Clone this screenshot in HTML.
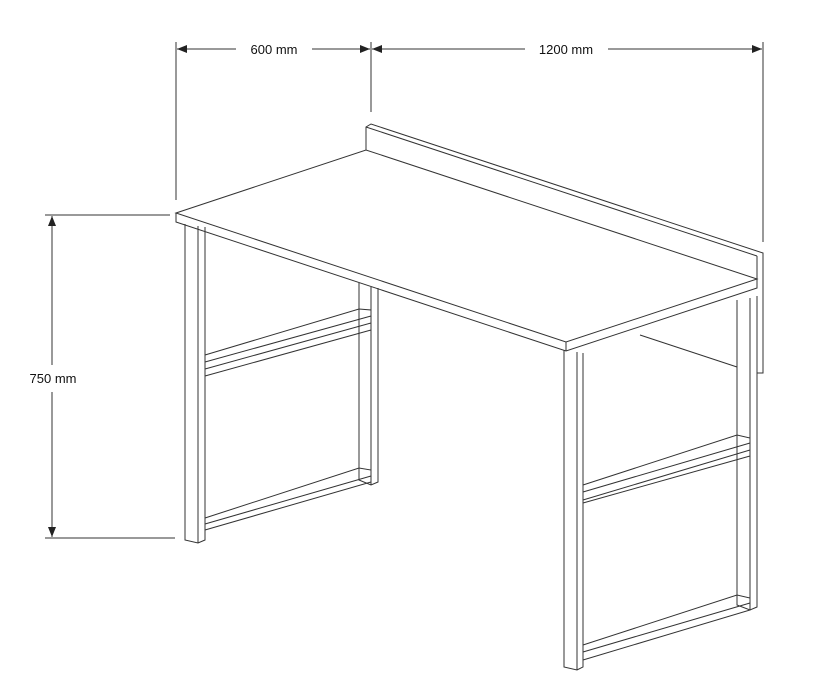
<!DOCTYPE html>
<html><head><style>body{margin:0;background:#fff}svg{display:block}</style></head><body>
<svg width="820" height="691" viewBox="0 0 820 691" xmlns="http://www.w3.org/2000/svg">
<defs><marker id="a" markerWidth="10" markerHeight="8" refX="10" refY="4" orient="auto-start-reverse" markerUnits="userSpaceOnUse"><path d="M0,0 L10,4 L0,8 Z" fill="#222"/></marker></defs>
<g stroke="#333" stroke-width="1" fill="none">
<!-- dimension lines -->
<line x1="176" y1="42" x2="176" y2="200"/>
<line x1="371" y1="42" x2="371" y2="112"/>
<line x1="763" y1="42" x2="763" y2="242"/>
<line x1="177" y1="49" x2="236" y2="49" marker-start="url(#a)"/>
<line x1="312" y1="49" x2="370" y2="49" marker-end="url(#a)"/>
<line x1="372" y1="49" x2="525" y2="49" marker-start="url(#a)"/>
<line x1="608" y1="49" x2="762" y2="49" marker-end="url(#a)"/>
<line x1="45" y1="215" x2="170" y2="215"/>
<line x1="45" y1="538" x2="175" y2="538"/>
<line x1="52" y1="216" x2="52" y2="365" marker-start="url(#a)"/>
<line x1="52" y1="392" x2="52" y2="537" marker-end="url(#a)"/>
<!-- backsplash -->
<polyline points="366,150 366,127 371,124 763,253 763,373 757,373"/>
<line x1="366" y1="127" x2="757" y2="256"/>
<line x1="757" y1="256" x2="757" y2="279"/>
<!-- top -->
<polygon points="176,213 366,150 757,279 566,342" fill="#fff"/>
<polyline points="176,213 176,222 566,351 757,288 757,279"/>
<line x1="566" y1="342" x2="566" y2="351"/>
<line x1="640" y1="335" x2="737" y2="367"/>
<!-- left front post -->
<polyline points="185,224 185,540 198,543 205,540 205,227"/>
<line x1="198" y1="226" x2="198" y2="543"/>
<!-- left rear post -->
<polyline points="359,283 359,480 371,485 378,482 378,288"/>
<line x1="371" y1="287" x2="371" y2="485"/>
<!-- left bars -->
<polyline points="205,355 359,309 371,310 371,323 205,369"/>
<line x1="205" y1="362" x2="371" y2="316"/>
<line x1="205" y1="376" x2="371" y2="330"/>
<polyline points="205,518 359,468 371,470 371,482 205,530"/>
<line x1="205" y1="524" x2="371" y2="476"/>
<!-- right front post -->
<polyline points="564,350 564,667 577,670 583,667 583,353"/>
<line x1="577" y1="352" x2="577" y2="670"/>
<!-- right rear post -->
<polyline points="737,300 737,605 750,610 757,607 757,296"/>
<line x1="750" y1="298" x2="750" y2="610"/>
<!-- right bars -->
<polyline points="583,485 737,435 750,438 750,450 583,500"/>
<line x1="583" y1="492" x2="750" y2="443"/>
<line x1="583" y1="503" x2="750" y2="456"/>
<polyline points="583,645 737,595 750,598 750,610 583,660"/>
<line x1="583" y1="652" x2="750" y2="603"/>
</g>
<g font-family="'Liberation Sans', sans-serif" font-size="13" fill="#111">
<text x="274" y="54" text-anchor="middle">600 mm</text>
<text x="566" y="54" text-anchor="middle">1200 mm</text>
<text x="53" y="383" text-anchor="middle">750 mm</text>
</g>
</svg>
</body></html>
